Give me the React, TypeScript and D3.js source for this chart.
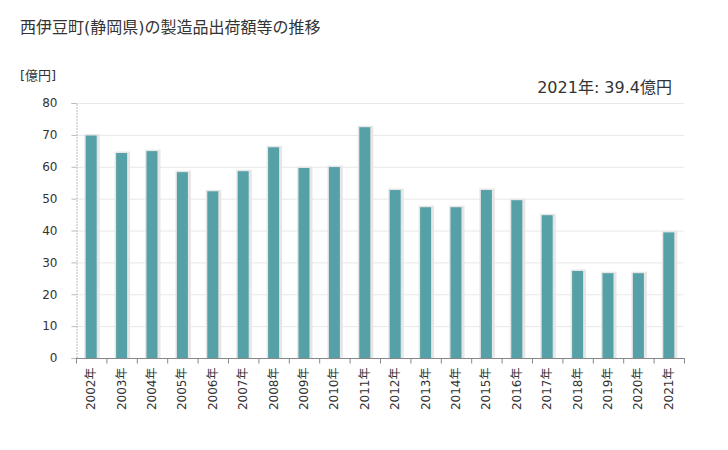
import React, { useRef, useEffect } from 'react';
import * as d3 from 'd3';

const years = [
  '2002年', '2003年', '2004年', '2005年', '2006年', '2007年', '2008年', '2009年', '2010年', '2011年',
  '2012年', '2013年', '2014年', '2015年', '2016年', '2017年', '2018年', '2019年', '2020年', '2021年',
];
const values = [69.8, 64.3, 64.9, 58.3, 52.3, 58.6, 66.1, 59.6, 59.9, 72.4, 52.7, 47.3, 47.3, 52.7, 49.5, 44.8, 27.3, 26.6, 26.6, 39.4];
const yTicks = [0, 10, 20, 30, 40, 50, 60, 70, 80];

const title = '西伊豆町(静岡県)の製造品出荷額等の推移';
const unitLabel = '[億円]';
const note = '2021年: 39.4億円';

const App = () => {
  const svgRef = useRef<SVGSVGElement>(null);

  useEffect(() => {
    const svg = d3.select(svgRef.current);
    svg.selectAll('*').remove();

    const width = 728;
    const height = 450;
    const left = 76;
    const right = 684;
    const top = 103;
    const bottom = 358;
    const font = '"DejaVu Sans", "Noto Sans CJK JP", sans-serif';

    svg.attr('width', width).attr('height', height).style('font-family', font);

    const x = d3.scaleBand().domain(years).range([left, right]);
    const y = d3.scaleLinear().domain([0, 80]).range([bottom, top]);

    svg.append('text').attr('x', 20).attr('y', 33).attr('font-size', 16).attr('fill', '#333').text(title);
    svg.append('text').attr('x', 20).attr('y', 80).attr('font-size', 13).attr('fill', '#333').text(unitLabel);
    svg.append('text').attr('x', 672).attr('y', 93).attr('font-size', 16).attr('fill', '#333')
      .attr('text-anchor', 'end').text(note);

    // gridlines
    svg.append('g').selectAll('line').data(yTicks.filter((t) => t > 0)).join('line')
      .attr('x1', left).attr('x2', right)
      .attr('y1', (d) => y(d) + 0.5).attr('y2', (d) => y(d) + 0.5)
      .attr('stroke', '#e8e8e8');

    // y axis
    const yAxis = svg.append('g').attr('transform', `translate(${left + 0.5},0)`)
      .call(d3.axisLeft(y).tickValues(yTicks).tickSize(5).tickPadding(14));
    yAxis.select('.domain').attr('stroke', '#bbb').attr('stroke-dasharray', '2,1');
    yAxis.selectAll('.tick line').attr('stroke', '#bbb');
    yAxis.selectAll('text').attr('font-size', 12).attr('fill', '#333').style('font-family', font);

    const barW = 11;
    // shadows
    svg.append('g').selectAll('rect').data(values).join('rect')
      .attr('x', (d, i) => x(years[i])! + x.bandwidth() / 2 - barW / 2 - 1.5)
      .attr('y', (d) => y(d) - 1.5)
      .attr('width', barW + 4.5)
      .attr('height', (d) => bottom - y(d) + 1.5)
      .attr('fill', '#e6e6e6');
    svg.append('g').selectAll('rect').data(values).join('rect')
      .attr('x', (d, i) => x(years[i])! + x.bandwidth() / 2 - barW / 2)
      .attr('y', (d) => y(d))
      .attr('width', barW)
      .attr('height', (d) => bottom - y(d))
      .attr('fill', '#56a0a7');

    // x axis
    const xAxisG = svg.append('g').attr('transform', `translate(0,${bottom + 0.5})`);
    xAxisG.append('line').attr('x1', left).attr('x2', right + 1).attr('stroke', '#888');
    xAxisG.selectAll('line.t').data(d3.range(years.length + 1)).join('line')
      .attr('class', 't')
      .attr('x1', (i) => left + i * x.step() + 0.5).attr('x2', (i) => left + i * x.step() + 0.5)
      .attr('y1', 0).attr('y2', 5).attr('stroke', '#888');
    xAxisG.selectAll('text').data(years).join('text')
      .attr('transform', (d) => `translate(${x(d)! + x.bandwidth() / 2 + 4},9) rotate(-90)`)
      .attr('text-anchor', 'end')
      .attr('font-size', 12)
      .attr('fill', '#333')
      .text((d) => d);
  }, []);

  return <svg ref={svgRef} style={{ position: 'absolute', left: 0, top: 0 }}></svg>;
};

export default App;
